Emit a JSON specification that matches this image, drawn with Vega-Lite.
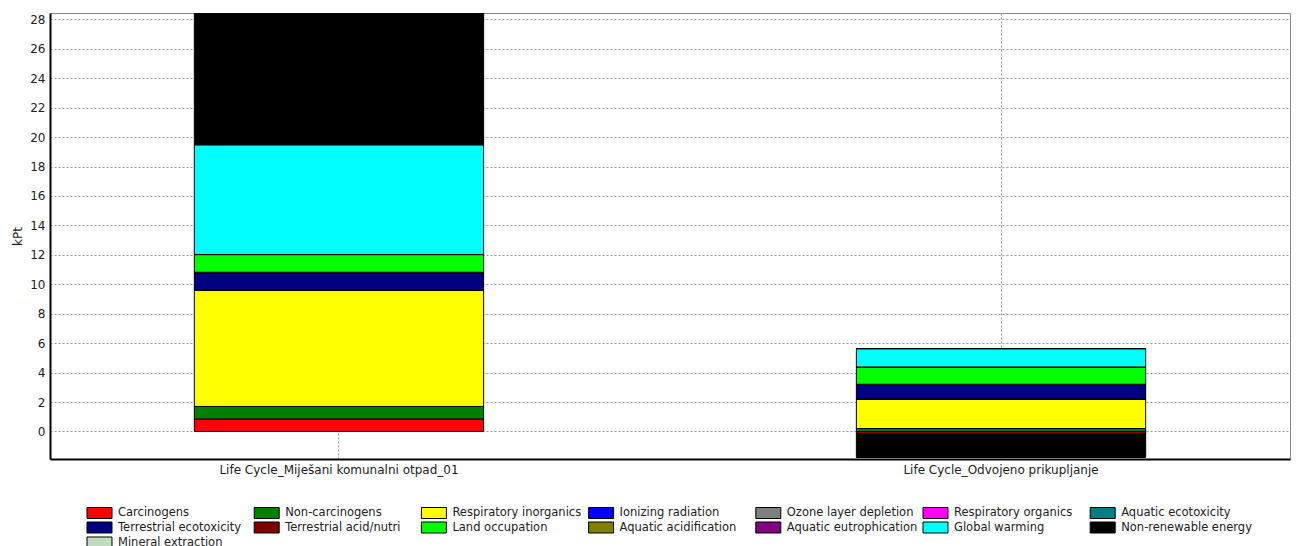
{
  "$schema": "https://vega.github.io/schema/vega-lite/v6.json",
  "width": 1240,
  "height": 446,
  "autosize": {"type": "none"},
  "padding": {"left": 50, "top": 13, "right": 8, "bottom": 87},
  "background": "white",
  "config": {
    "font": "DejaVu Sans",
    "view": {"stroke": "#888888", "strokeWidth": 1}
  },
  "data": {
    "values": [
      {"product": "Life Cycle_Mije\u0161ani komunalni otpad_01", "impact": "Carcinogens", "value": 0.85},
      {"product": "Life Cycle_Mije\u0161ani komunalni otpad_01", "impact": "Non-carcinogens", "value": 0.85},
      {"product": "Life Cycle_Mije\u0161ani komunalni otpad_01", "impact": "Respiratory inorganics", "value": 7.88},
      {"product": "Life Cycle_Mije\u0161ani komunalni otpad_01", "impact": "Ionizing radiation", "value": 0.01},
      {"product": "Life Cycle_Mije\u0161ani komunalni otpad_01", "impact": "Ozone layer depletion", "value": 0.002},
      {"product": "Life Cycle_Mije\u0161ani komunalni otpad_01", "impact": "Respiratory organics", "value": 0.005},
      {"product": "Life Cycle_Mije\u0161ani komunalni otpad_01", "impact": "Aquatic ecotoxicity", "value": 0.02},
      {"product": "Life Cycle_Mije\u0161ani komunalni otpad_01", "impact": "Terrestrial ecotoxicity", "value": 1.15},
      {"product": "Life Cycle_Mije\u0161ani komunalni otpad_01", "impact": "Terrestrial acid/nutri", "value": 0.05},
      {"product": "Life Cycle_Mije\u0161ani komunalni otpad_01", "impact": "Land occupation", "value": 1.2},
      {"product": "Life Cycle_Mije\u0161ani komunalni otpad_01", "impact": "Aquatic acidification", "value": 0.005},
      {"product": "Life Cycle_Mije\u0161ani komunalni otpad_01", "impact": "Aquatic eutrophication", "value": 0.002},
      {"product": "Life Cycle_Mije\u0161ani komunalni otpad_01", "impact": "Global warming", "value": 7.45},
      {"product": "Life Cycle_Mije\u0161ani komunalni otpad_01", "impact": "Non-renewable energy", "value": 8.93},
      {"product": "Life Cycle_Mije\u0161ani komunalni otpad_01", "impact": "Mineral extraction", "value": 0.01},
      {"product": "Life Cycle_Odvojeno prikupljanje", "impact": "Carcinogens", "value": -0.12},
      {"product": "Life Cycle_Odvojeno prikupljanje", "impact": "Non-carcinogens", "value": 0.2},
      {"product": "Life Cycle_Odvojeno prikupljanje", "impact": "Respiratory inorganics", "value": 2.0},
      {"product": "Life Cycle_Odvojeno prikupljanje", "impact": "Ionizing radiation", "value": 0.005},
      {"product": "Life Cycle_Odvojeno prikupljanje", "impact": "Ozone layer depletion", "value": 0.001},
      {"product": "Life Cycle_Odvojeno prikupljanje", "impact": "Respiratory organics", "value": 0.002},
      {"product": "Life Cycle_Odvojeno prikupljanje", "impact": "Aquatic ecotoxicity", "value": 0.01},
      {"product": "Life Cycle_Odvojeno prikupljanje", "impact": "Terrestrial ecotoxicity", "value": 0.97},
      {"product": "Life Cycle_Odvojeno prikupljanje", "impact": "Terrestrial acid/nutri", "value": 0.02},
      {"product": "Life Cycle_Odvojeno prikupljanje", "impact": "Land occupation", "value": 1.17},
      {"product": "Life Cycle_Odvojeno prikupljanje", "impact": "Aquatic acidification", "value": 0.003},
      {"product": "Life Cycle_Odvojeno prikupljanje", "impact": "Aquatic eutrophication", "value": 0.002},
      {"product": "Life Cycle_Odvojeno prikupljanje", "impact": "Global warming", "value": 1.24},
      {"product": "Life Cycle_Odvojeno prikupljanje", "impact": "Non-renewable energy", "value": -1.65},
      {"product": "Life Cycle_Odvojeno prikupljanje", "impact": "Mineral extraction", "value": 0.005}
    ]
  },
  "transform": [
    {"calculate": "indexof(['Carcinogens','Non-carcinogens','Respiratory inorganics','Ionizing radiation','Ozone layer depletion','Respiratory organics','Aquatic ecotoxicity','Terrestrial ecotoxicity','Terrestrial acid/nutri','Land occupation','Aquatic acidification','Aquatic eutrophication','Global warming','Non-renewable energy','Mineral extraction'], datum.impact)", "as": "k"}
  ],
  "mark": {"type": "bar", "stroke": "black", "strokeWidth": 1, "clip": true},
  "encoding": {
    "x": {
      "field": "product",
      "type": "nominal",
      "sort": null,
      "scale": {"paddingInner": 0.563, "paddingOuter": 0.218},
      "axis": {
        "title": null,
        "labelAngle": 0,
        "labelFontSize": 12,
        "labelColor": "#222222",
        "labelPadding": 5,
        "labelLimit": 0,
        "ticks": false,
        "domainColor": "black",
        "domainWidth": 2,
        "grid": true,
        "gridColor": "#999999",
        "gridDash": [2, 2],
        "gridWidth": 1
      }
    },
    "y": {
      "field": "value",
      "type": "quantitative",
      "stack": "zero",
      "scale": {"domain": [-1.87, 28.43], "nice": false, "zero": false},
      "axis": {
        "title": "kPt",
        "titleFontSize": 12,
        "titleFontWeight": "normal",
        "titleColor": "#222222",
        "titleAngle": -90,
        "titleX": -33,
        "titleY": 223,
        "titleAlign": "center",
        "titleBaseline": "middle",
        "values": [0, 2, 4, 6, 8, 10, 12, 14, 16, 18, 20, 22, 24, 26, 28],
        "labelFontSize": 12,
        "labelColor": "#222222",
        "labelPadding": 5,
        "ticks": false,
        "domainColor": "black",
        "domainWidth": 2,
        "grid": true,
        "gridColor": "#999999",
        "gridDash": [2, 2],
        "gridWidth": 1
      }
    },
    "color": {
      "field": "impact",
      "type": "nominal",
      "scale": {
        "domain": ["Carcinogens", "Non-carcinogens", "Respiratory inorganics", "Ionizing radiation", "Ozone layer depletion", "Respiratory organics", "Aquatic ecotoxicity", "Terrestrial ecotoxicity", "Terrestrial acid/nutri", "Land occupation", "Aquatic acidification", "Aquatic eutrophication", "Global warming", "Non-renewable energy", "Mineral extraction"],
        "range": ["#FF0000", "#008000", "#FFFF00", "#0000FF", "#808080", "#FF00FF", "#008080", "#000080", "#800000", "#00FF00", "#808000", "#800080", "#00FFFF", "#000000", "#C0DCC0"]
      },
      "legend": {
        "title": null,
        "orient": "none",
        "legendX": 37,
        "legendY": 493,
        "direction": "horizontal",
        "columns": 7,
        "gridAlign": "all",
        "columnPadding": 3.2,
        "rowPadding": -2.5,
        "padding": 0,
        "symbolType": "M-2.083,-0.917H2.083V0.917H-2.083Z",
        "symbolSize": 144,
        "symbolStrokeColor": "black",
        "symbolStrokeWidth": 1,
        "symbolOpacity": 1,
        "symbolOffset": 6,
        "labelOffset": 12,
        "labelFontSize": 11.5,
        "labelColor": "#222222",
        "labelLimit": 200
      }
    },
    "order": {"field": "k", "type": "quantitative"}
  }
}
